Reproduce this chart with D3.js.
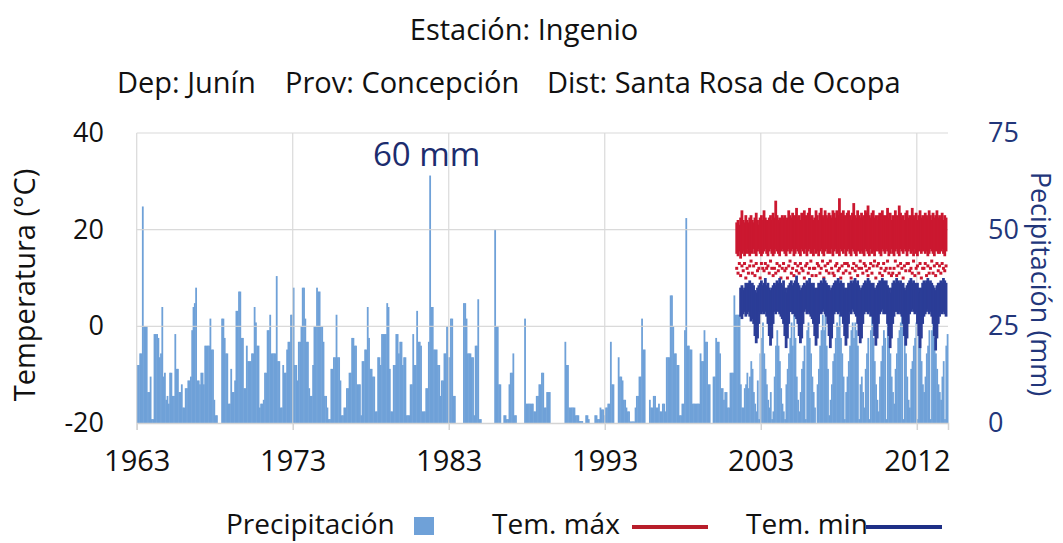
<!DOCTYPE html>
<html><head><meta charset="utf-8">
<script src="https://cdn.jsdelivr.net/npm/d3@7"></script>
<style>body{margin:0;background:#fff}svg{display:block}text{font-family:"Open Sans",sans-serif}</style>
</head><body><svg id="c" width="1063" height="543"></svg>
<script>
// ---------- DATA ----------
const startYear = 1963;
const xTickMonths = [0, 120, 240, 360, 480, 600];
const xTickLabels = ["1963", "1973", "1983", "1993", "2003", "2012"];
const tempTicks = [-20, 0, 20, 40];
const precipTicks = [0, 25, 50, 75];
const tempGrid = [0, 20, 40];

// monthly precipitation (mm), Jan 1963 .. Dec 2014
const precipitation = [
 15,15,18,18,56,25,25,25,8,8,12,1,
 1,23,23,23,22,17,18,30,12,13,6,7,
 5,13,13,7,7,23,14,14,8,8,10,4,
 4,9,9,11,11,12,24,30,31,35,11,11,
 10,13,13,10,20,20,20,20,27,19,19,6,
 2,2,0,0,0,27,27,22,18,18,5,5,
 14,8,8,11,29,29,34,34,22,22,9,9,
 20,16,16,16,18,18,30,26,20,20,4,5,
 5,6,13,13,24,24,28,18,18,18,18,38,
 16,16,4,4,15,13,13,19,21,21,28,28,
 35,15,15,11,21,21,25,35,35,27,21,21,
 9,7,7,15,25,25,35,34,34,25,25,21,
 7,7,4,1,1,14,14,17,17,28,17,17,
 11,2,2,4,4,9,9,13,13,22,22,20,
 20,10,10,10,2,16,16,19,19,30,22,14,
 14,12,12,3,3,17,17,15,23,23,23,23,
 31,30,14,3,3,15,15,23,23,18,21,21,
 15,17,17,2,2,2,10,10,23,15,15,29,
 21,21,20,3,3,3,9,9,21,64,30,30,
 19,19,19,15,15,7,11,11,18,18,25,17,
 17,27,27,7,7,0,0,0,0,0,0,31,
 31,27,18,18,18,17,17,2,20,20,32,1,
 1,0,0,0,0,0,0,0,0,0,0,50,
 25,25,10,10,0,0,2,2,1,1,10,13,
 13,18,2,2,0,0,0,0,0,0,27,5,
 5,5,5,5,5,3,3,7,7,10,10,13,
 13,4,4,8,8,8,0,0,0,0,0,0,
 0,0,0,0,0,21,15,15,4,4,4,4,
 4,2,2,2,0.5,0.5,0.5,0,0,2,2,1,
 0,0,0,0,2,2,1,1,4,3.5,3.5,2,
 4,4,5,5,21,10,10,0,0,0,17,12,
 12,11,6,6,4,3,3,0.4,0.4,0.4,0.4,4,
 7,7,12,12,27,19,19,0,0,0,6,4,
 4,7,7,4,4,5,3,3,5,5,3,17,
 17,17,33,33,25,18,18,15,15,2,2,5,
 5,24,53,20,20,19,19,5,5,5,5,5,
 5,18,16,16,24,21,21,10,10,0,0,12,
 12,22,21,21,18,9,9,6,8,8,4,4,
 13,13,13,33,28,28,28,28,10,4,4,9,
 10,13,9,12,16,14,8,5,3,11,1,18,
 22,26,18,14,10,6,4,8,1,3,12,20,
 24,20,16,9,5,3,1,10,14,18,22,26,
 20,28,22,12,6,3,8,14,16,20,1,24,
 26,22,18,12,8,4,0,10,14,20,24,28,
 24,30,20,14,2,6,10,16,18,22,26,25,
 28,22,18,12,1,8,12,16,20,24,26,22,
 26,24,20,1,10,12,8,4,14,18,22,1,
 24,28,22,16,10,6,3,12,16,20,24,22,
 1,26,22,18,12,8,5,14,18,22,24,26,
 28,1,24,18,12,6,4,14,16,20,22,26,
 1,24,22,16,10,8,12,18,20,24,1,24,
 26,22,18,14,10,8,6,12,16,1,20,23
];

// daily temperature cloud summarised per month (°C), from month index 461 (Jun 2001)
const tempStartMonth = 461;
const tmaxHigh = [
 21.5,22,21,22.5,24,22,21.5,23,22,21.5,22.5,23,
 22,21.5,22.5,23.5,22,21,22.5,23,22,24,22.5,22,
 21.5,22.5,23,22,23.5,22.5,26,23,22,22.5,21.5,23,
 22.5,23,22,22.5,24,23,22.5,23.5,22,23,24.5,22.5,
 23,22,23.5,22.5,24,23,22,23.5,24.5,22.5,23,22,
 22.5,24,23,22,23.5,24.5,23,22.5,24,23,22.5,23.5,
 23,22.5,24,23.5,22.5,24,23,26.5,23.5,22.5,24,23,
 22.5,23.5,24,23,22,23.5,25.5,23,22.5,24,23,22.5,
 23.5,22.5,23,24,23.5,25,23,22.5,23.5,24,22.5,23,
 22,23,23.5,22.5,24,23,22.5,23,24.5,22.5,23.5,22,
 23,22.5,24,23,22,25,23.5,22.5,23,22,23.5,24,
 22.5,23,22,24.5,23,22.5,23.5,22,23,24,22.5,23,
 22,23.5,23,22.5,24,23,22,23.5,22.5,23,24,22.5,
 23,22.5,23.5,22,23,22.5
];
const tmaxLow = [
 15,14.5,15.5,14,15,15.5,14.5,15,16,15,14.5,15.5,
 15,16,15,14.5,15.5,16,15,14.5,15,15.5,16,15,
 14.5,15.5,16,15,14.5,15,16,15.5,15,14.5,15.5,16,
 15.5,15,14.5,15.5,16,15,15.5,16,14.5,15,16,15.5,
 15,14.5,16,15.5,15,16,14.5,15.5,16,15,15.5,14.5,
 16,15,15.5,14.5,15.5,16,15,14.5,15.5,16,15,15.5,
 15,16,14.5,15.5,16,15,15.5,14.5,16,15.5,15,16,
 14.5,15.5,16,15,14.5,16,15.5,15,14.5,15.5,16,15,
 15.5,15,14.5,16,15.5,15,14.5,16,15,15.5,14.5,15.5,
 16,15.5,15,14.5,16,15.5,15,16,15.5,14.5,15,16,
 15,14.5,15.5,16,15,14.5,16,15.5,15,16,15.5,14.5,
 15.5,16,15,15.5,14.5,16,15,14.5,15.5,16,15,15.5,
 16,15,15.5,14.5,15,16,15.5,15,14.5,15.5,16,15,
 15,15.5,16,15,14.5,15.5
];
const tmaxOutlier = [
 12,11,13,10.5,12.5,11.5,13,10,12,11,12.5,13.5,
 11,12.5,10.5,13,11.5,12,10,13,12,11.5,13,12,
 12.5,11,13.5,12,10.5,12,11,13,11.5,12.5,10,12,
 13,11.5,12,10,12.5,13.5,11,12,10.5,13,11.5,12.5,
 11,13,12,11.5,10,12.5,13,11,12,13.5,10.5,12,
 12,10.5,13,12.5,11,12,13.5,10,12.5,11.5,13,11,
 13.5,12,11,10.5,12.5,13,11.5,12,10,12.5,11,13,
 11.5,13,12.5,11,10,12,13,11.5,12.5,10.5,12,13.5,
 12,11,13,12.5,11.5,10.5,12,13,11,12.5,13.5,10,
 12.5,13,11,12,10.5,13,11.5,12,13.5,11,12,10.5,
 11,12,13.5,10.5,12.5,11,13,12,10,12.5,11.5,13,
 13,11.5,12,11,13.5,10.5,12,12.5,11,13,10,12,
 12,13,10.5,12.5,11,12,13.5,11,12.5,10.5,13,11.5,
 12.5,11,13,12,11.5,12.5
];
const tminHigh = [
 null,null,null,8,8.5,7.5,8,9,8.5,9,9.5,8,
 9,8.5,7.5,7,8,8.5,9,9.5,8.5,9,10,8.5,
 9,8,7.5,8,8.5,9,8.5,9.5,9,10,9,8.5,
 9.5,8,7,8,8.5,9,9.5,8.5,9,9.5,10.5,9,
 8.5,7.5,8,8.5,9,8.5,9.5,9,10,9,8.5,9,
 8,7,8,9,8.5,9.5,9,10,9.5,9,8.5,8.5,
 7.5,8,8.5,9,9.5,9,10,9,9.5,8.5,9,8,
 7,8,9,8.5,9.5,9,9.5,10,9,9.5,8.5,7.5,
 8,8.5,9,9.5,9,10,9.5,9,8.5,9,8,7.5,
 8.5,9,9.5,9,10,9.5,9,9.5,8.5,8,7,8,
 9,9.5,9,10,9.5,9,9.5,8.5,9,8,7.5,8.5,
 9,9.5,10,9,9.5,9,8.5,9,8,7,8,9,
 9.5,9,9.5,10,9,9.5,9,8.5,8,7.5,8.5,9,
 9,9.5,9,10,9.5,9
];
const tminLow = [
 null,null,null,2,1.5,2.5,3,2,2.5,3,2,1,
 1.5,0.5,-2,-3.5,-2.5,0.5,3,2.5,3,2.5,3,2,
 0.5,-2,-4,-2.5,0.5,3,2.5,3.5,3,2.5,2,1.5,
 0.5,-2,-4.5,-2.5,0.5,3,3,2.5,3,2,1.5,0.5,
 -2,-3.5,-2.5,0.5,3,3.5,2.5,3,2.5,2,1.5,0.5,
 -2,-4,-2.5,0.5,3,2.5,3,3.5,2.5,2,0.5,-2,
 -4.5,-2.5,0.5,2.5,3,3,2.5,3,2,2.5,0.5,-2,
 -4,-2.5,0.5,3,2.5,3.5,3,2.5,2,0.5,-2,-3.5,
 -2.5,0.5,2.5,3,3,2.5,3,2,2.5,0.5,-2,-4,
 -2.5,0.5,2.5,3,3.5,2.5,3,2.5,0.5,-2,-4.5,-2.5,
 0.5,2,3,3,2.5,3,2.5,2,0.5,-2,-4,-2.5,
 0.5,2.5,3,3.5,3,2.5,3,0.5,-2,-4.5,-2.5,0.5,
 2,2.5,3,3.5,2.5,3,2,0.5,-2,-5,-2.5,0.5,
 2,3,2.5,3,2.5,2
];

// ---------- DRAW ----------
const svg = d3.select("#c");
const COL_BAR = "#6fa1d8", COL_RED = "#cb1830", COL_BLUE = "#2b3d97", COL_NAVY = "#22367a", COL_GRID = "#d4d4d4";
const nMonths = precipitation.length;
const x = d3.scaleLinear().domain([0, nMonths]).range([136.7, 948]);
const yT = d3.scaleLinear().domain([-20, 40]).range([423, 133]);
const yP = d3.scaleLinear().domain([0, 75]).range([423, 133]);

// precipitation bars
svg.append("g").selectAll("rect").data(precipitation).join("rect")
  .attr("x", (d, i) => x(i))
  .attr("width", (d, i) => x(i + 1) - x(i) + 0.5)
  .attr("y", d => yP(d))
  .attr("height", d => yP(0) - yP(d))
  .attr("fill", COL_BAR);

// grid
const grid = svg.append("g").attr("stroke", COL_GRID).attr("stroke-width", 1.2).attr("opacity", 0.85);
grid.selectAll("line.h").data(tempGrid).join("line").attr("class", "h")
  .attr("x1", x(0)).attr("x2", x(nMonths)).attr("y1", d => yT(d)).attr("y2", d => yT(d));
grid.selectAll("line.v").data(xTickMonths).join("line").attr("class", "v")
  .attr("x1", d => x(d)).attr("x2", d => x(d)).attr("y1", yT(40)).attr("y2", yT(-20));

// temperature cloud (markers ~2.8px wide per month)
const tIdx = d3.range(tmaxHigh.length);
const tg = svg.append("g");
const mx = i => x(tempStartMonth + i + 0.5);
tg.selectAll("rect.mx").data(tIdx).join("rect").attr("class", "mx")
  .attr("x", i => mx(i) - 1.4).attr("width", 2.8)
  .attr("y", i => yT(tmaxHigh[i]))
  .attr("height", i => yT(tmaxLow[i]) - yT(tmaxHigh[i]))
  .attr("fill", COL_RED);
tg.selectAll("rect.mo").data(tIdx).join("rect").attr("class", "mo")
  .attr("x", i => mx(i) - 1.5).attr("width", 3).attr("height", 3)
  .attr("y", i => yT(tmaxOutlier[i]) - 1.5)
  .attr("fill", COL_RED);
const nIdx = tIdx.filter(i => tminHigh[i] != null);
tg.selectAll("rect.mn").data(nIdx).join("rect").attr("class", "mn")
  .attr("x", i => mx(i) - 1.4).attr("width", 2.8)
  .attr("y", i => yT(tminHigh[i]))
  .attr("height", i => yT(tminLow[i]) - yT(tminHigh[i]))
  .attr("fill", COL_BLUE);

// axes
const axL = svg.append("g").attr("transform", "translate(104,0)")
  .call(d3.axisLeft(yT).tickValues(tempTicks).tickFormat(d => String(d)).tickSize(0).tickPadding(0));
axL.select(".domain").remove();
axL.selectAll("text").attr("font-size", 27).attr("fill", "#111").attr("font-family", "Open Sans");

const axR = svg.append("g").attr("transform", "translate(988,0)")
  .call(d3.axisRight(yP).tickValues(precipTicks).tickFormat(d => String(d)).tickSize(0).tickPadding(0));
axR.select(".domain").remove();
axR.selectAll("text").attr("font-size", 27).attr("fill", COL_NAVY).attr("font-family", "Open Sans");

const axB = svg.append("g").attr("transform", `translate(0,${yT(-20)})`)
  .call(d3.axisBottom(x).tickValues(xTickMonths).tickFormat((d, i) => xTickLabels[i]).tickSize(7).tickPadding(20));
axB.select(".domain").attr("stroke", COL_GRID).attr("stroke-width", 1.5);
axB.selectAll("line").attr("stroke", COL_GRID).attr("stroke-width", 1.5);
axB.selectAll("text").attr("font-size", 29).attr("fill", "#111").attr("font-family", "Open Sans");

// titles
svg.append("text").attr("x", 524).attr("y", 40).attr("text-anchor", "middle")
  .attr("font-size", 29).attr("fill", "#111").text("Estación: Ingenio");
const sub = [["Dep: Junín", 117], ["Prov: Concepción", 285], ["Dist: Santa Rosa de Ocopa", 547]];
svg.selectAll("text.sub").data(sub).join("text").attr("class", "sub")
  .attr("x", d => d[1]).attr("y", 93).attr("font-size", 29).attr("fill", "#111").text(d => d[0]);

svg.append("text").attr("transform", "translate(35,285) rotate(-90)").attr("text-anchor", "middle")
  .attr("font-size", 29).attr("fill", "#111").text("Temperatura (°C)");
svg.append("text").attr("transform", "translate(1031,284) rotate(90)").attr("text-anchor", "middle")
  .attr("font-size", 27).attr("fill", COL_NAVY).text("Pecipitación (mm)");

svg.append("text").attr("x", 373).attr("y", 166).attr("font-size", 33).attr("fill", "#1c2c6e").text("60 mm");

// legend
const lg = svg.append("g");
lg.append("text").attr("x", 226).attr("y", 534).attr("font-size", 28).attr("fill", "#111").text("Precipitación");
lg.append("rect").attr("x", 414).attr("y", 517).attr("width", 20).attr("height", 18).attr("fill", COL_BAR);
lg.append("text").attr("x", 492).attr("y", 534).attr("font-size", 28).attr("fill", "#111").text("Tem. máx");
lg.append("line").attr("x1", 632).attr("x2", 708).attr("y1", 527).attr("y2", 527).attr("stroke", "#b81e2a").attr("stroke-width", 4);
lg.append("text").attr("x", 746).attr("y", 534).attr("font-size", 28).attr("fill", "#111").text("Tem. min");
lg.append("line").attr("x1", 866).attr("x2", 942).attr("y1", 527).attr("y2", 527).attr("stroke", "#1e2f86").attr("stroke-width", 4);
</script></body></html>
